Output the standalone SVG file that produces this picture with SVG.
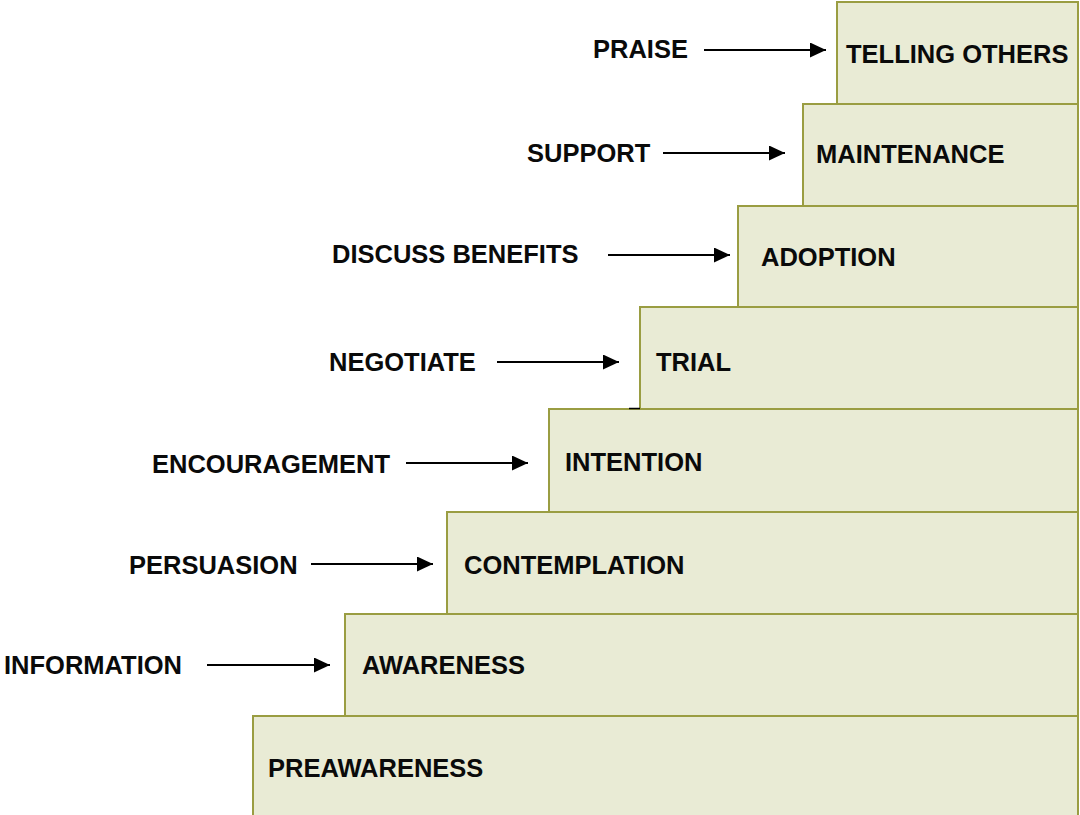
<svg xmlns="http://www.w3.org/2000/svg" width="1080" height="815" viewBox="0 0 1080 815">
<style>
.step{fill:#e9ebd5;stroke:#9a9d42;stroke-width:2}
.t{font-family:"Liberation Sans",Arial,sans-serif;font-weight:bold;font-size:25.5px;fill:#0a0a0a}
.c{stroke:#000;stroke-width:2;fill:none;marker-end:url(#ah)}
</style>
<defs>
<marker id="ah" markerUnits="userSpaceOnUse" viewBox="0 0 16 15" markerWidth="16" markerHeight="15" refX="16" refY="7.5" orient="auto">
<path d="M0,0 L16,7.5 L0,15 z" fill="#000"/>
</marker>
</defs>
<rect width="1080" height="815" fill="#fff"/>
<g id="preawareness"><rect class="step" x="253" y="716" width="825" height="110"/><text class="t" x="268" y="777">PREAWARENESS</text></g>
<g id="awareness"><rect class="step" x="345" y="614" width="733" height="102"/><text class="t" x="362" y="674">AWARENESS</text></g>
<g id="contemplation"><rect class="step" x="447" y="512" width="631" height="102"/><text class="t" x="464" y="574">CONTEMPLATION</text></g>
<g id="intention"><rect class="step" x="549" y="409" width="529" height="103"/><text class="t" x="565" y="471">INTENTION</text></g>
<g id="trial"><rect class="step" x="640" y="307" width="438" height="102"/><text class="t" x="656" y="371">TRIAL</text><line x1="629" y1="408.5" x2="640" y2="408.5" stroke="#000" stroke-width="1.5"/></g>
<g id="adoption"><rect class="step" x="738" y="206" width="340" height="101"/><text class="t" x="761" y="266">ADOPTION</text></g>
<g id="maintenance"><rect class="step" x="803" y="104" width="275" height="102"/><text class="t" x="816" y="163">MAINTENANCE</text></g>
<g id="telling-others"><rect class="step" x="837" y="2" width="241" height="102"/><text class="t" x="846" y="63">TELLING OTHERS</text></g>
<g id="labels">
<text class="t" x="593" y="58">PRAISE</text>
<text class="t" x="527" y="162">SUPPORT</text>
<text class="t" x="332" y="263">DISCUSS BENEFITS</text>
<text class="t" x="329" y="371">NEGOTIATE</text>
<text class="t" x="152" y="473">ENCOURAGEMENT</text>
<text class="t" x="129" y="574">PERSUASION</text>
<text class="t" x="4" y="674">INFORMATION</text>
</g>
<g id="connectors">
<line class="c" x1="704" y1="50" x2="826" y2="50"/>
<line class="c" x1="663" y1="153" x2="785" y2="153"/>
<line class="c" x1="608" y1="255" x2="730" y2="255"/>
<line class="c" x1="497" y1="362" x2="619" y2="362"/>
<line class="c" x1="406" y1="463" x2="528" y2="463"/>
<line class="c" x1="311" y1="564" x2="433" y2="564"/>
<line class="c" x1="207" y1="665" x2="330" y2="665"/>
</g>
</svg>
